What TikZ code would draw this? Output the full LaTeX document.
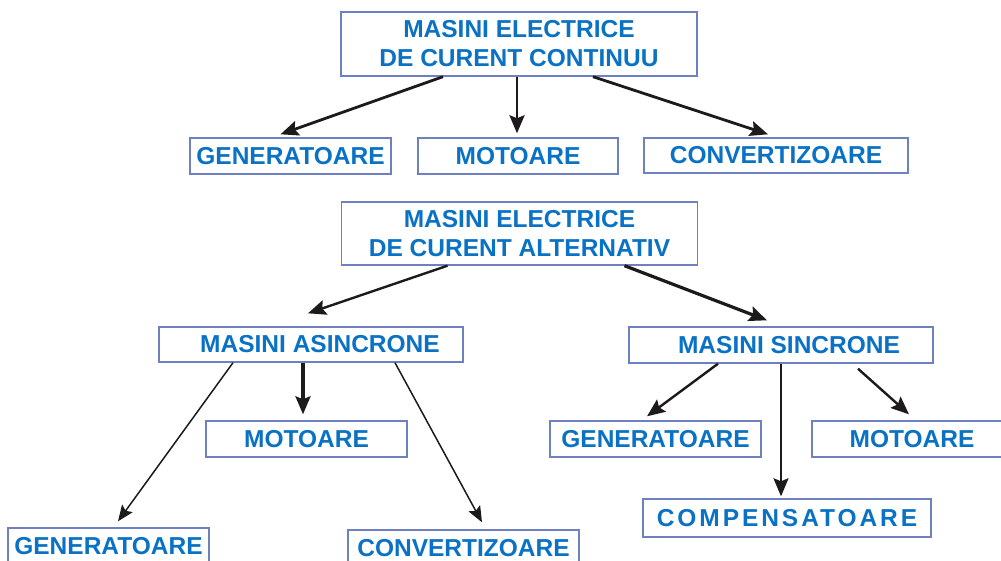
\documentclass[tikz,border=0pt]{standalone}
\usepackage{fontspec}
\setmainfont{Liberation Sans}
\usetikzlibrary{arrows.meta}
\definecolor{textblue}{HTML}{0A72C4}
\definecolor{framecol}{HTML}{6E80C2}
\definecolor{arrowcol}{HTML}{1C1A1A}
\begin{document}
\begin{tikzpicture}[x=1pt,y=-1pt,
  box/.style={draw=framecol, line width=1.4pt, fill=white, inner sep=0pt,
    text=textblue, font=\fontsize{24.5}{29}\selectfont\bfseries, align=center},
  link/.style={draw=arrowcol, line width=#1, -{Stealth[length=18pt,width=15pt,inset=3pt]}},
  link/.default=2.8pt,
  thin link/.style={draw=arrowcol, line width=1.5pt, -{Stealth[length=16pt,width=13pt,inset=3pt]}}]
\useasboundingbox (0,0) rectangle (1001,560);
\clip (0,0) rectangle (1001,560);
% curent continuu
\node[box, minimum width=356pt, minimum height=64pt] (1) at (519,44) {MASINI ELECTRICE\\DE CURENT CONTINUU};
\node[box, minimum width=201pt, minimum height=36pt] (2) at (290.5,156) {GENERATOARE};
\node[box, minimum width=200pt, minimum height=36pt] (3) at (518,156) {MOTOARE};
\node[box, minimum width=264pt, minimum height=35pt] (4) at (776,155.5) {CONVERTIZOARE};
\path[link] ([xshift=-76pt]1.south) -- ([xshift=-10pt,yshift=3pt]2.north);
\path[link] ([xshift=-2pt]1.south) -- ([xshift=-1pt,yshift=4pt]3.north);
\path[link] ([xshift=74pt]1.south) -- ([xshift=-8pt,yshift=3pt]4.north);
% curent alternativ
\node[box, minimum width=356pt, minimum height=63pt] (5) at (519.5,233.5) {MASINI ELECTRICE\\DE CURENT ALTERNATIV};
\node[box, minimum width=304pt, minimum height=35pt] (6) at (311,344.5) {\hspace*{18pt}MASINI ASINCRONE};
\node[box, minimum width=201pt, minimum height=36pt] (7) at (306.5,439) {MOTOARE};
\node[box, minimum width=201pt, minimum height=36pt] (8) at (108.5,546) {GENERATOARE};
\node[box, minimum width=231pt, minimum height=36pt] (9) at (463.5,548) {CONVERTIZOARE};
\node[box, minimum width=304pt, minimum height=36pt] (10) at (781,345) {\hspace*{16pt}MASINI SINCRONE};
\node[box, minimum width=211pt, minimum height=36pt] (11) at (655.5,439) {GENERATOARE};
\node[box, minimum width=200pt, minimum height=36pt] (12) at (912,439) {MOTOARE};
\node[box, minimum width=288pt, minimum height=38pt] (13) at (787,518) {\addfontfeature{LetterSpace=12}COMPENSATOARE};
\path[link=2.4pt] ([xshift=-72pt]5.south) -- ([xshift=-3pt,yshift=13pt]6.north);
\path[link=3.2pt] ([xshift=105pt]5.south) -- ([xshift=-14pt,yshift=6pt]10.north);
\path[thin link] ([xshift=-78pt]6.south) -- ([xshift=9.5pt,yshift=6pt]8.north);
\path[link=3.2pt] ([xshift=-8pt]6.south) -- ([xshift=-3.5pt,yshift=6pt]7.north);
\path[thin link] ([xshift=84pt]6.south) -- ([xshift=18.5pt,yshift=7pt]9.north);
\path[link=2.4pt] ([xshift=-63pt]10.south) -- ([xshift=-8.5pt,yshift=4pt]11.north);
\path[link=2.4pt] (10.south) -- ([xshift=-6pt,yshift=2pt]13.north);
\path[link=2.4pt] ([xshift=77pt,yshift=-5pt]10.south) -- ([xshift=-3pt,yshift=6pt]12.north);
\end{tikzpicture}
\end{document}
